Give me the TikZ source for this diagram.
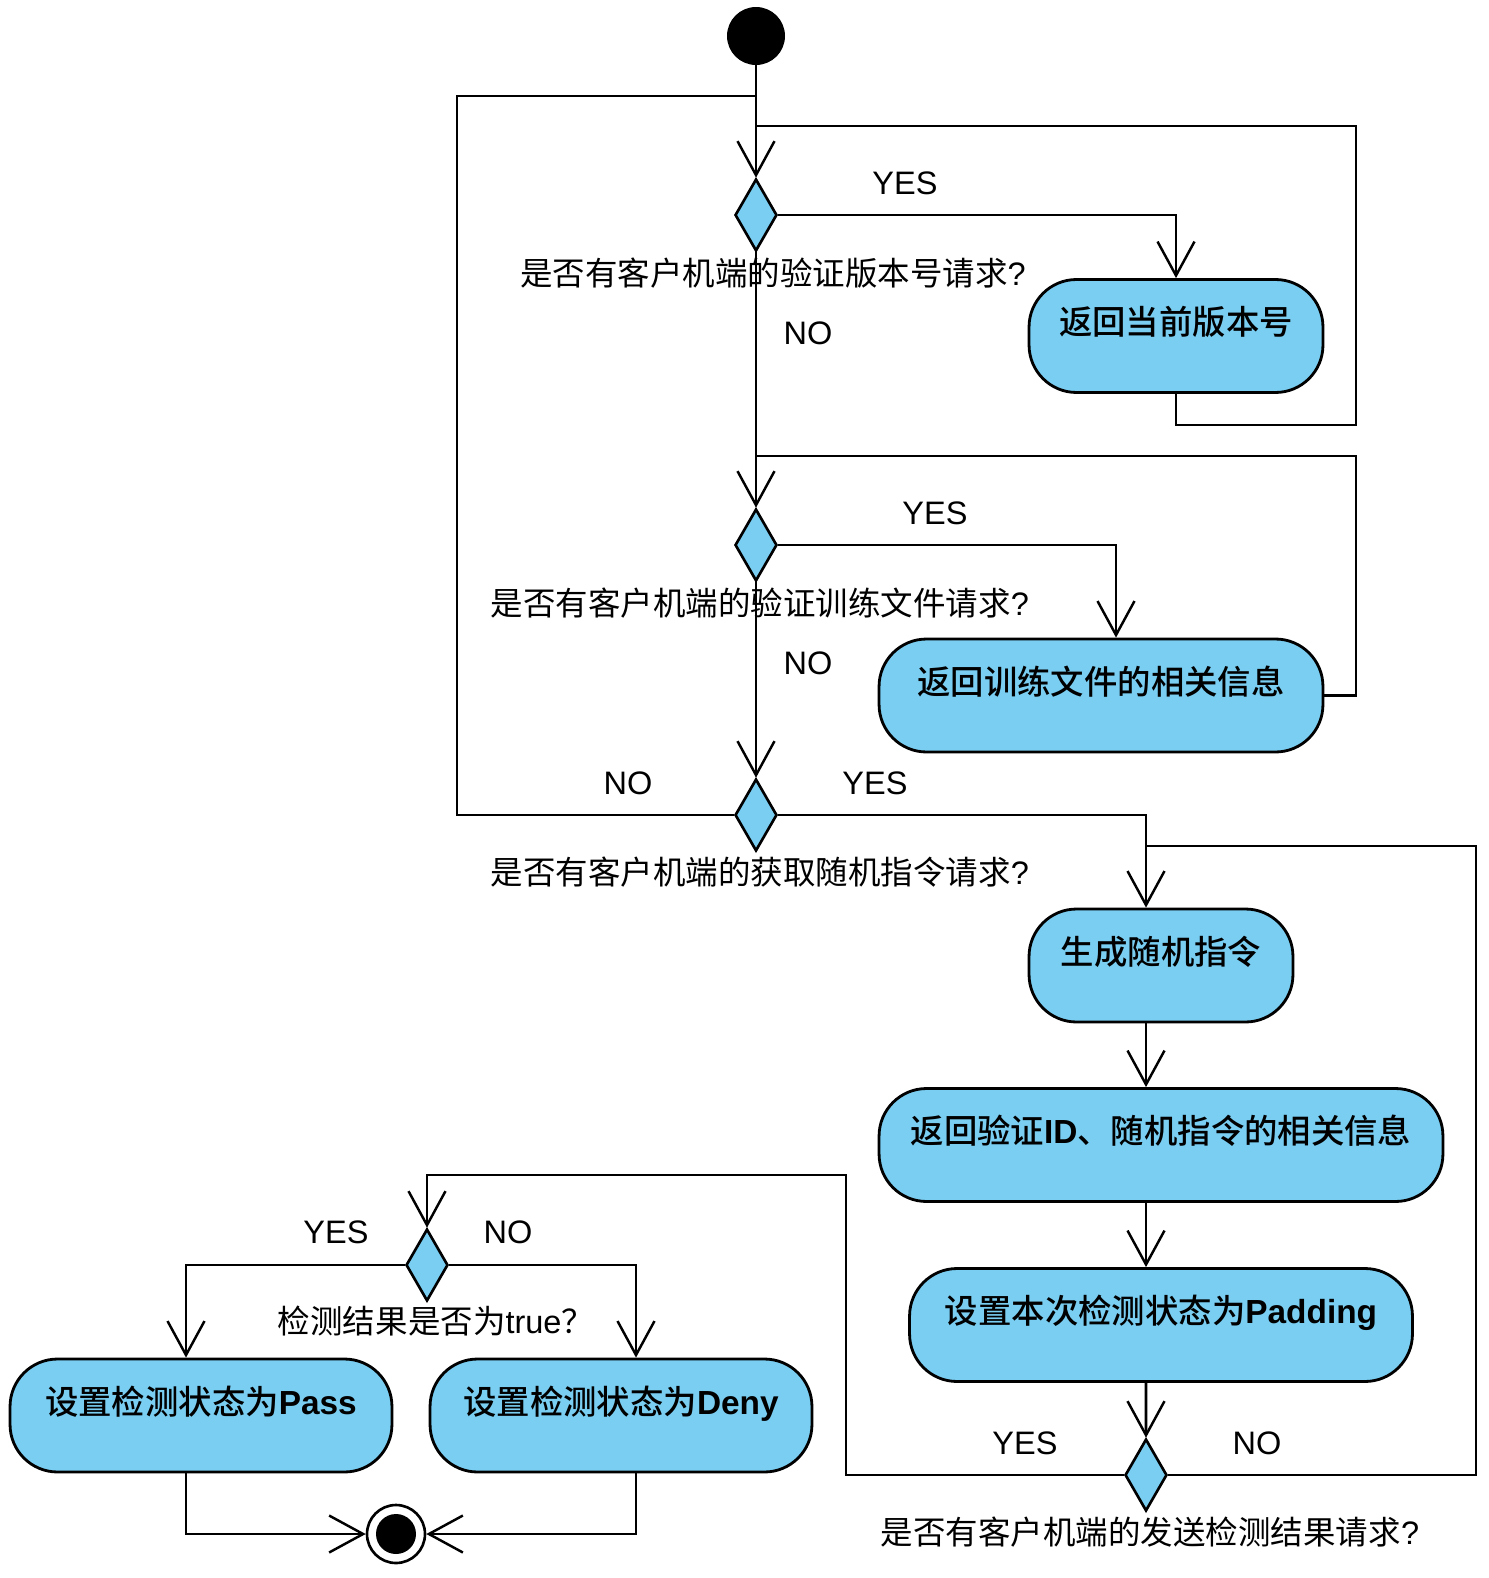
\documentclass[tikz,border=0pt]{standalone}
\usepackage{fontspec}
\setmainfont{Liberation Sans}
\newfontfamily\cjk{Noto Sans CJK SC}
\newfontfamily\cjkm{Noto Sans CJK SC Medium}
\usetikzlibrary{shapes.geometric,arrows.meta}
\definecolor{actblue}{RGB}{121,206,242}
\newcommand\zh[1]{{\cjk #1}}
\newcommand\zhb[1]{{\cjkm\mdseries #1}}
\tikzset{
  act/.style={draw, fill=actblue, rounded corners=0.95cm, line width=1.6pt, inner sep=0pt,
    minimum height=2.26cm, text height=1.1cm, text depth=1.16cm,
    font=\fontsize{19}{22}\selectfont\bfseries},
  dec/.style={diamond, draw, fill=actblue, line width=1.5pt, inner sep=0pt,
    minimum width=0.84cm, minimum height=1.44cm},
  flow/.style={line width=1.5pt, -{Straight Barb[length=0.68cm,width=0.74cm,line width=1.4pt]}},
  plain/.style={line width=1.5pt},
  lbl/.style={inner sep=0pt, font=\fontsize{18.5}{22}\selectfont},
}
\begin{document}
\begin{tikzpicture}[x=0.02cm,y=-0.02cm]
\useasboundingbox (0,0) rectangle (1488,1578);

\node[circle, fill=black, minimum size=1.16cm, inner sep=0pt] (start) at (756,36) {};
\node[dec] (d1) at (756,215) {};
\node[dec] (d2) at (756,545) {};
\node[dec] (d3) at (756,815) {};
\node[dec] (d4) at (1146,1475) {};
\node[dec] (d5) at (427,1265) {};

\node[act, minimum width=5.88cm] (b1) at (1176,336) {\zhb{返回当前版本号}};
\node[act, minimum width=8.88cm] (b2) at (1101,695.5) {\zhb{返回训练文件的相关信息}};
\node[act, minimum width=5.28cm] (b3) at (1161,965.5) {\zhb{生成随机指令}};
\node[act, minimum width=11.28cm] (b4) at (1161,1145) {\zhb{返回验证}ID\zhb{、随机指令的相关信息}};
\node[act, minimum width=10.06cm] (b5) at (1161,1325) {\zhb{设置本次检测状态为}Padding};
\node[act, minimum width=7.64cm] (b6) at (201,1415.5) {\zhb{设置检测状态为}Pass};
\node[act, minimum width=7.64cm] (b7) at (621,1415.5) {\zhb{设置检测状态为}Deny};

\node[circle, draw, fill=white, line width=1.5pt, minimum size=1.16cm, inner sep=0pt,
  path picture={\fill[black] (path picture bounding box.center) circle (0.4cm);}] (stop) at (396,1534) {};

% questions
\node[lbl] (q1) at (773,273) {\zh{是否有客户机端的验证版本号请求}?};
\node[lbl] (q2) at (760,603) {\zh{是否有客户机端的验证训练文件请求}?};
\node[lbl] (q3) at (760,872) {\zh{是否有客户机端的获取随机指令请求}?};
\node[lbl] (q4) at (1150,1532) {\zh{是否有客户机端的发送检测结果请求}?};
\node[lbl] (q5) at (436,1321) {\zh{检测结果是否为}true\zh{？}};

% guards
\node[lbl] (y1) at (905,183) {YES};
\node[lbl] (n1) at (808,333) {NO};
\node[lbl] (y2) at (935,513) {YES};
\node[lbl] (n2) at (808,663) {NO};
\node[lbl] (n3) at (628,783) {NO};
\node[lbl] (y3) at (875,783) {YES};
\node[lbl] (y4) at (1025,1443) {YES};
\node[lbl] (n4) at (1257,1443) {NO};
\node[lbl] (y5) at (336,1232) {YES};
\node[lbl] (n5) at (508,1232) {NO};

\coordinate (j1) at (756,96);
\coordinate (j2) at (756,126);
\coordinate (j3) at (756,456);
\coordinate (j4) at (1146,846);
\coordinate (loopL) at (457,96);
\coordinate (loopR1) at (1356,425);
\coordinate (loopR2) at (1356,456);
\coordinate (loopR3) at (1476,846);
\coordinate (loopB) at (846,1175);

\path[draw,flow] (start) -- (d1.north);
\path[draw,flow] (d1.south) -- (d2.north);
\path[draw,flow] (d2.south) -- (d3.north);
\path[draw,flow] (d1.east) -| (b1.north);
\path[draw,flow] (d2.east) -| ([xshift=0.3cm]b2.north);
\path[draw,flow] (d3.east) -| ([xshift=-0.3cm]b3.north);
\path[draw,flow] ([xshift=-0.3cm]b3.south) -- ([xshift=-0.3cm]b4.north);
\path[draw,flow] ([xshift=-0.3cm]b4.south) -- ([xshift=-0.3cm]b5.north);
\path[draw,flow] ([xshift=-0.3cm]b5.south) -- (d4.north);
\path[draw,flow] (d4.west) -| (loopB) -| (d5.north);
\path[draw,flow] (d5.west) -| ([xshift=-0.3cm]b6.north);
\path[draw,flow] (d5.east) -| ([xshift=0.3cm]b7.north);
\path[draw,flow] ([xshift=-0.3cm]b6.south) |- (stop.west);
\path[draw,flow] ([xshift=0.3cm]b7.south) |- (stop.east);

\path[draw,plain] (d3.west) -| (loopL) -- (j1);
\path[draw,plain] (b1.south) |- (loopR1) |- (j2);
\path[draw,plain] (b2.east) -| (loopR2) -- (j3);
\path[draw,plain] (d4.east) -| (loopR3) -- (j4);
\end{tikzpicture}
\end{document}
